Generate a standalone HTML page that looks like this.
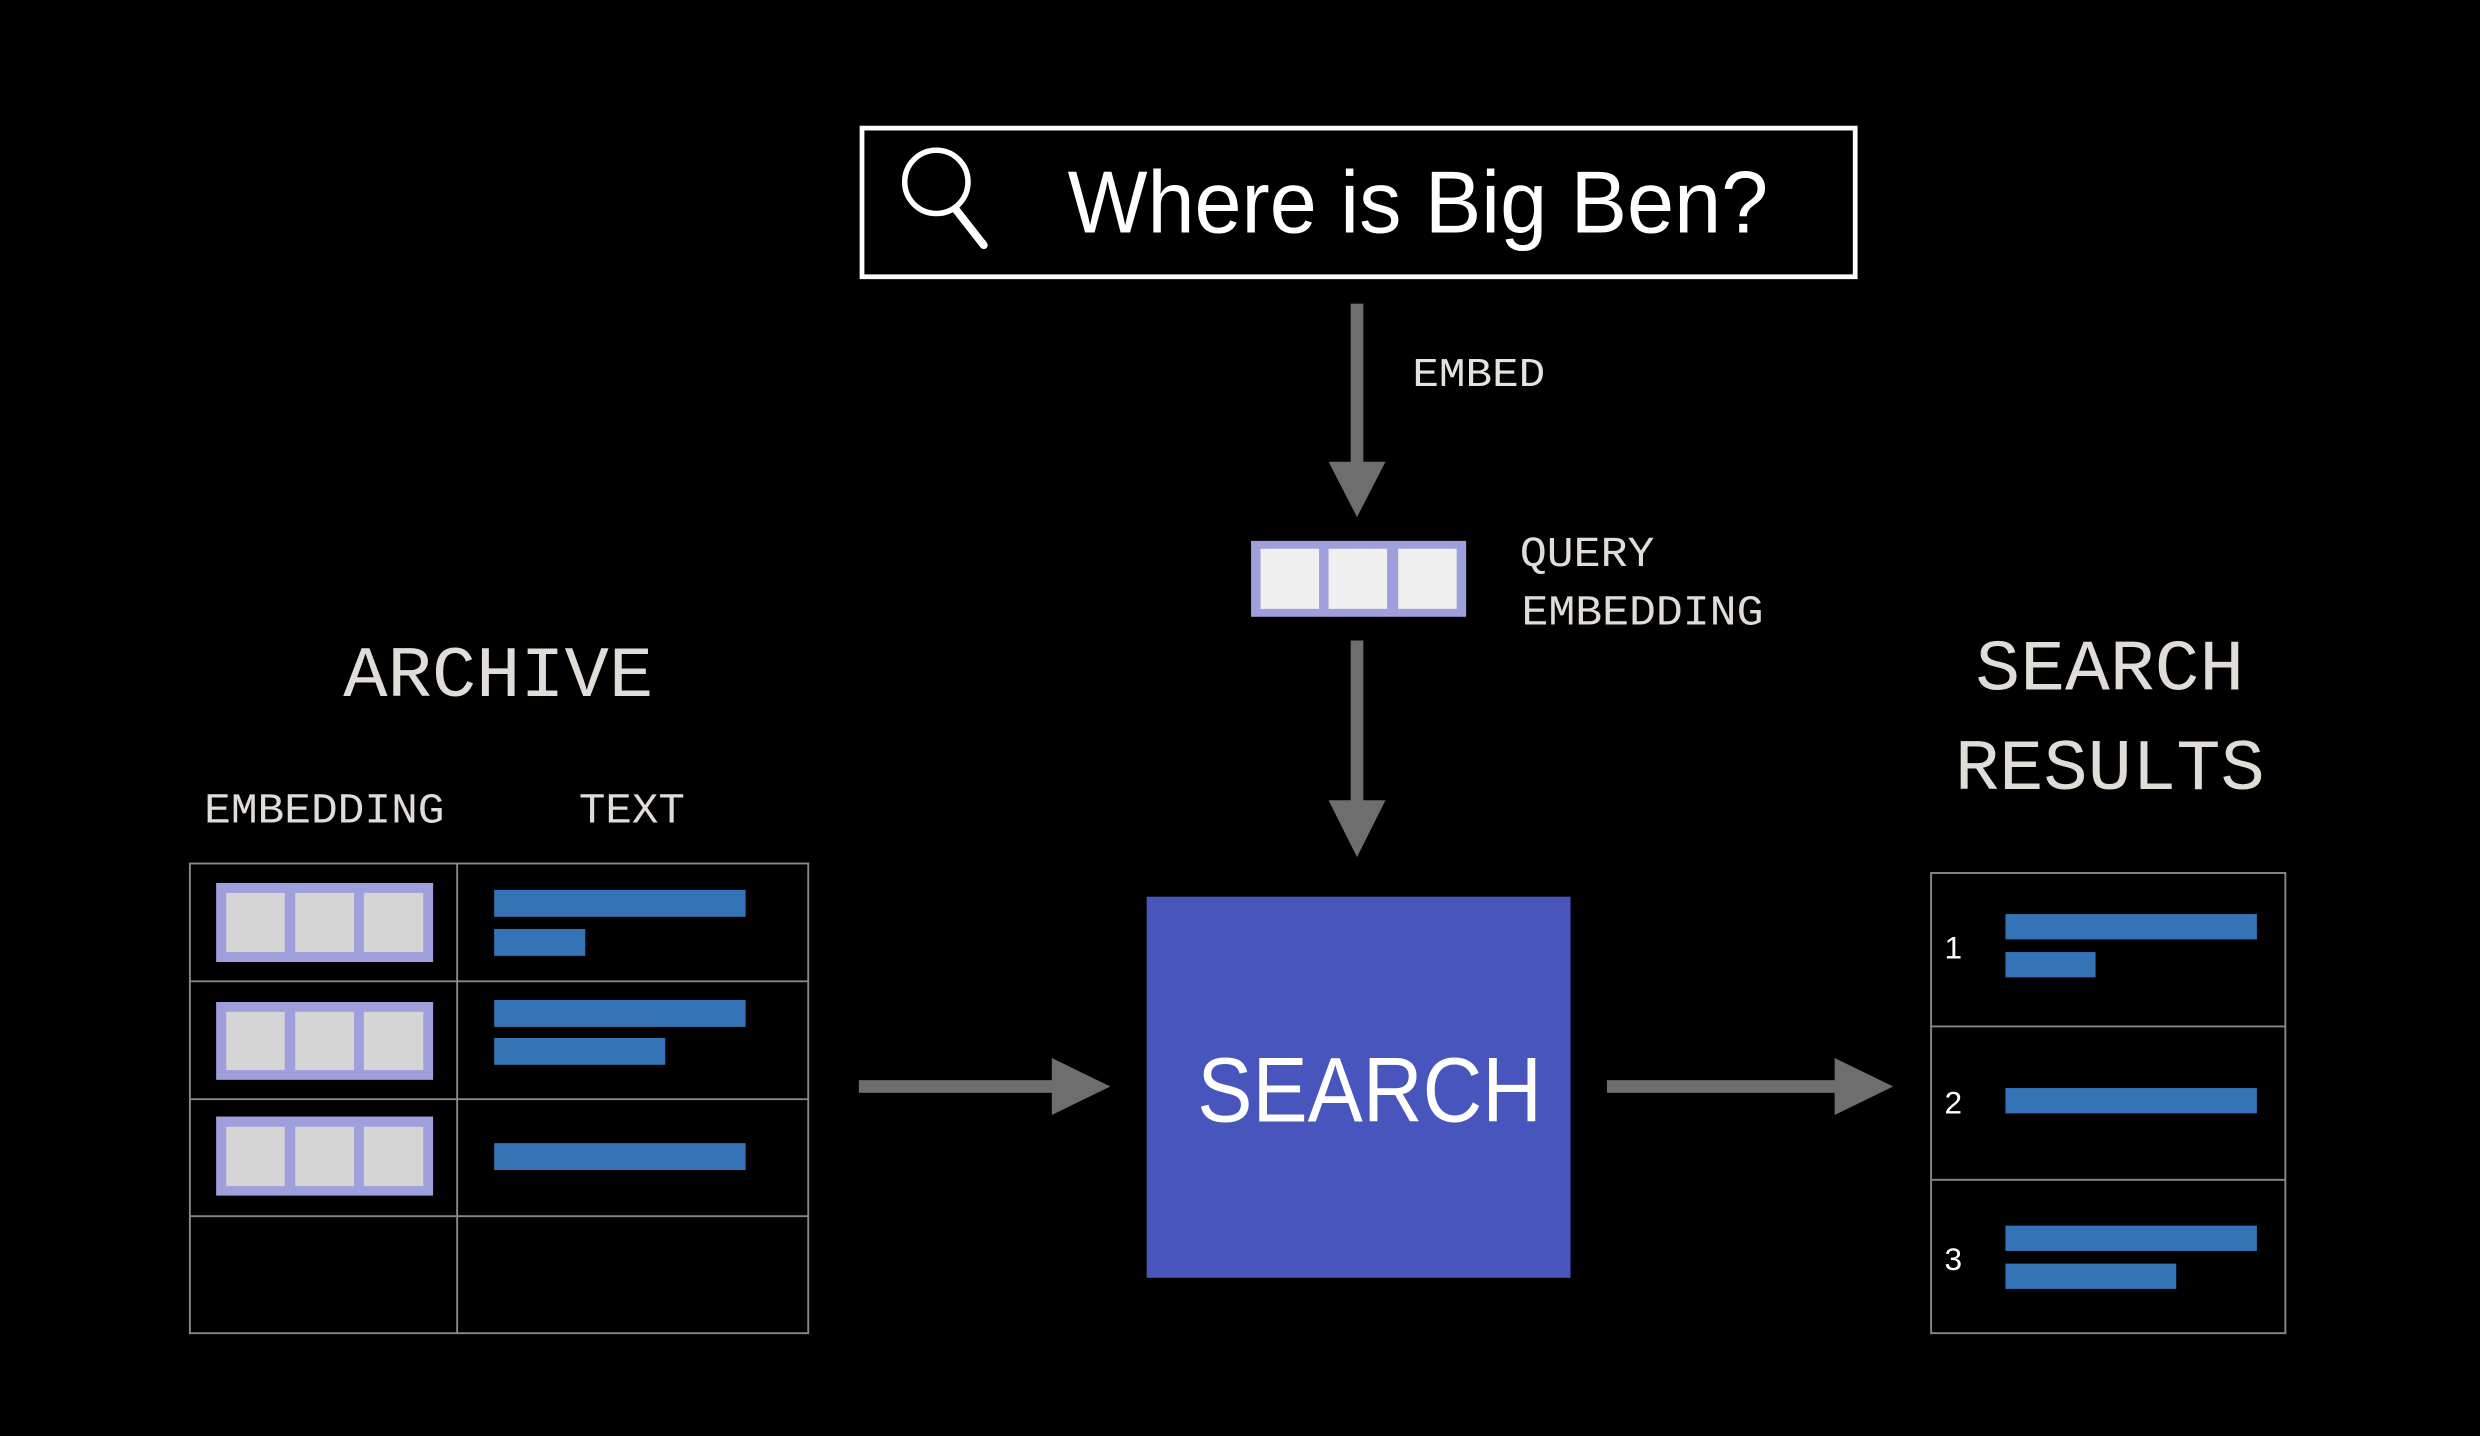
<!DOCTYPE html>
<html><head><meta charset="utf-8"><style>
html,body{margin:0;padding:0;background:#000;}
svg{display:block;}
</style></head><body>
<svg width="2480" height="1436" viewBox="0 0 1568 908" xmlns="http://www.w3.org/2000/svg">
<rect width="1568" height="908" fill="#000"/>
<!-- search box -->
<rect x="545" y="81" width="628" height="94" fill="none" stroke="#fff" stroke-width="3"/>
<circle cx="592" cy="115" r="20" fill="none" stroke="#fff" stroke-width="3.5"/>
<line x1="604" y1="132" x2="622" y2="155" stroke="#fff" stroke-width="5" stroke-linecap="round"/>
<text x="675" y="147" font-family="Liberation Sans, sans-serif" font-size="56" fill="#fff" textLength="443" lengthAdjust="spacingAndGlyphs">Where is Big Ben?</text>
<!-- arrows -->
<g fill="#6e6e6e">
<rect x="854" y="192" width="8" height="103"/>
<polygon points="840,292 876,292 858,327"/>
<rect x="854" y="405" width="8" height="104"/>
<polygon points="840,506 876,506 858,542"/>
<rect x="543" y="683" width="126" height="8"/>
<polygon points="665,669 665,705 702,687"/>
<rect x="1016" y="683" width="146" height="8"/>
<polygon points="1160,669 1160,705 1197,687"/>
</g>
<text x="893" y="244" font-family="Liberation Mono, monospace" font-size="26" fill="#e6e2de" textLength="84" lengthAdjust="spacingAndGlyphs">EMBED</text>
<!-- query embedding -->
<rect x="791" y="342" width="136" height="48" fill="#9f9fdd"/>
<rect x="797" y="347" width="37" height="38" fill="#efefef"/>
<rect x="840" y="347" width="37" height="38" fill="#efefef"/>
<rect x="884" y="347" width="37" height="38" fill="#efefef"/>
<g font-family="Liberation Mono, monospace" font-size="27" fill="#e0dcd8">
<text x="961" y="358" textLength="85" lengthAdjust="spacingAndGlyphs">QUERY</text>
<text x="962" y="395" textLength="153" lengthAdjust="spacingAndGlyphs">EMBEDDING</text>
<text x="315" y="440" text-anchor="middle" font-size="46" textLength="196" lengthAdjust="spacingAndGlyphs">ARCHIVE</text>
<text x="129" y="520" textLength="152" lengthAdjust="spacingAndGlyphs">EMBEDDING</text>
<text x="366" y="520" textLength="67" lengthAdjust="spacingAndGlyphs">TEXT</text>
<text x="1334" y="436" text-anchor="middle" font-size="46" textLength="170" lengthAdjust="spacingAndGlyphs">SEARCH</text>
<text x="1334" y="499" text-anchor="middle" font-size="46" textLength="196" lengthAdjust="spacingAndGlyphs">RESULTS</text>
</g>
<!-- search box -->
<rect x="725" y="567" width="268" height="241" fill="#4755bd"/>
<text x="866" y="709" text-anchor="middle" font-family="Liberation Sans, sans-serif" font-size="58" fill="#fff" textLength="218" lengthAdjust="spacingAndGlyphs">SEARCH</text>
<!-- archive table -->
<g fill="none" stroke="#888" stroke-width="1.2">
<rect x="120" y="546" width="391" height="297"/>
<line x1="289" y1="546" x2="289" y2="843"/>
<line x1="120" y1="620.5" x2="511" y2="620.5"/>
<line x1="120" y1="695" x2="511" y2="695"/>
<line x1="120" y1="769" x2="511" y2="769"/>
</g>
<g>
<rect x="136.6" y="558.3" width="137.2" height="50" fill="#9f9fdd"/>
<rect x="143" y="564.6" width="37" height="37.4" fill="#d5d5d5"/>
<rect x="186.6" y="564.6" width="37.2" height="37.4" fill="#d5d5d5"/>
<rect x="230" y="564.6" width="37.6" height="37.4" fill="#d5d5d5"/>
<rect x="136.6" y="633.6" width="137.2" height="49.2" fill="#9f9fdd"/>
<rect x="143" y="639.8" width="37" height="36.8" fill="#d5d5d5"/>
<rect x="186.6" y="639.8" width="37.2" height="36.8" fill="#d5d5d5"/>
<rect x="230" y="639.8" width="37.6" height="36.8" fill="#d5d5d5"/>
<rect x="136.6" y="706" width="137.2" height="50" fill="#9f9fdd"/>
<rect x="143" y="712.5" width="37" height="37.5" fill="#d5d5d5"/>
<rect x="186.6" y="712.5" width="37.2" height="37.5" fill="#d5d5d5"/>
<rect x="230" y="712.5" width="37.6" height="37.5" fill="#d5d5d5"/>
</g>
<g fill="#3474b6">
<rect x="312.4" y="562.7" width="159" height="17"/>
<rect x="312.4" y="587.4" width="57.6" height="17"/>
<rect x="312.4" y="632.3" width="159" height="17"/>
<rect x="312.4" y="656.3" width="108.2" height="17"/>
<rect x="312.4" y="722.8" width="159" height="17"/>
</g>
<!-- results table -->
<g fill="none" stroke="#888" stroke-width="1.2">
<rect x="1221" y="552" width="224" height="291"/>
<line x1="1221" y1="649" x2="1445" y2="649"/>
<line x1="1221" y1="746" x2="1445" y2="746"/>
</g>
<g fill="#3474b6">
<rect x="1268" y="578" width="159" height="16"/>
<rect x="1268" y="602" width="57" height="16"/>
<rect x="1268" y="688" width="159" height="16"/>
<rect x="1268" y="775" width="159" height="16"/>
<rect x="1268" y="799" width="108" height="16"/>
</g>
<g font-family="Liberation Sans, sans-serif" font-size="20" fill="#fff" text-anchor="middle">
<text x="1235" y="606">1</text>
<text x="1235" y="704">2</text>
<text x="1235" y="803">3</text>
</g>
</svg>
</body></html>
